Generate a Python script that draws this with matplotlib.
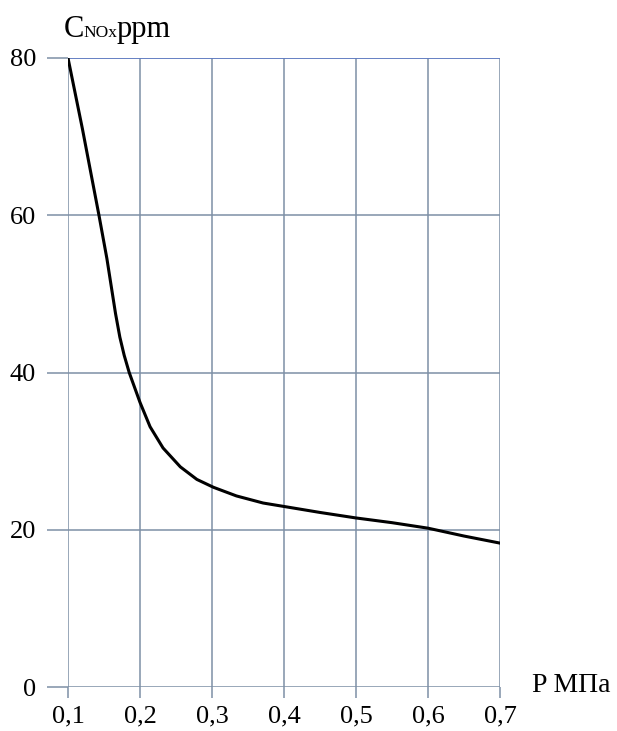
import matplotlib
matplotlib.use("Agg")
import matplotlib.pyplot as plt

# values
pressure = [0.1, 0.12, 0.143, 0.154, 0.160, 0.166, 0.172, 0.178, 0.185, 0.2,
            0.214, 0.232, 0.256, 0.279, 0.302, 0.334, 0.371, 0.404, 0.45, 0.5,
            0.55, 0.6, 0.65, 0.7]
nox_ppm = [80, 71, 60, 54.5, 51, 47.5, 44.5, 42.2, 40, 36.2,
           33.1, 30.4, 28.0, 26.4, 25.4, 24.3, 23.4, 22.9, 22.2, 21.5,
           20.9, 20.2, 19.2, 18.3]
x_ticks = [0.1, 0.2, 0.3, 0.4, 0.5, 0.6, 0.7]
x_tick_labels = ["0,1", "0,2", "0,3", "0,4", "0,5", "0,6", "0,7"]
y_ticks = [0, 20, 40, 60, 80]

plt.rcParams['font.family'] = ['Liberation Serif', 'DejaVu Serif']

W, H = 617, 731
fig = plt.figure(figsize=(W / 100, H / 100), dpi=100)
ax = fig.add_axes([68 / W, 1 - 687 / H, (500 - 68) / W, (687 - 58) / H])

grid_color = '#7d8fa6'
ax.plot(pressure, nox_ppm, color='black', lw=2.2, zorder=3,
        solid_joinstyle='round')

ax.set_xlim(0.1, 0.7)
ax.set_ylim(0, 80)
ax.set_xticks(x_ticks)
ax.set_xticklabels(x_tick_labels)
ax.set_yticks(y_ticks)
ax.grid(True, color=grid_color, lw=1.1)
for s in ax.spines.values():
    s.set_visible(False)
ax.tick_params(axis='x', length=8, width=1.1, color=grid_color, pad=5, labelsize=19)
ax.tick_params(axis='y', length=15, width=1.1, color=grid_color, pad=8, labelsize=19)
# top line a bit bluer like the reference
ax.axhline(80, color='#5a78c8', lw=1.1, zorder=2)

fig.text(64 / W, 1 - 37 / H, "C", fontsize=22, ha='left', va='baseline')
fig.text(83 / W, 1 - 37 / H, "NOx", fontsize=12.5, ha='left', va='baseline')
fig.text(117 / W, 1 - 37 / H, "ppm", fontsize=22, ha='left', va='baseline')
fig.text(532 / W, 1 - 692 / H, "P МПа", fontsize=20, ha='left', va='baseline')

fig.savefig("out.png", dpi=100)
